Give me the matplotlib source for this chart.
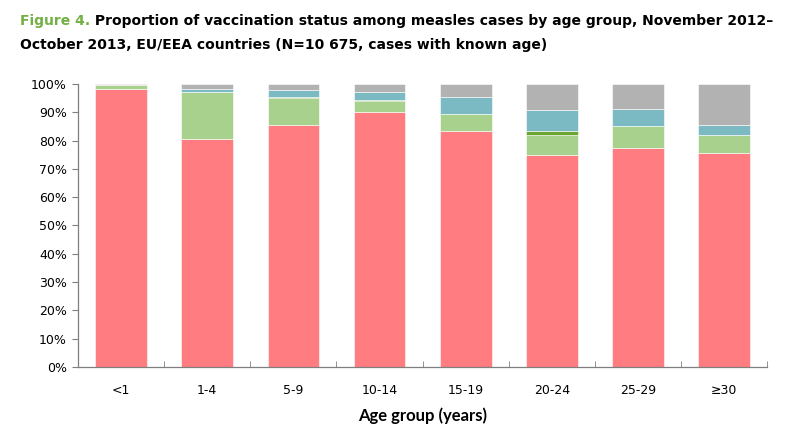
import numpy as np
import matplotlib.pyplot as plt

plt.rcParams["font.family"] = ["DejaVu Sans"]

# Vaccination status shares (%) by age group
age_groups = ["<1", "1-4", "5-9", "10-14", "15-19", "20-24", "25-29", "\u226530"]
unvaccinated = [98.3, 80.6, 85.5, 90.0, 83.5, 75.0, 77.3, 75.5]
one_dose = [1.2, 16.6, 9.6, 3.9, 5.9, 6.8, 8.0, 6.3]
two_doses = [0.0, 0.0, 0.3, 0.3, 0.0, 1.5, 0.0, 0.0]
unknown_doses = [0.2, 0.9, 2.3, 3.0, 5.8, 7.6, 5.9, 3.7]
unknown = [0.3, 1.9, 2.3, 2.8, 4.8, 9.1, 8.8, 14.5]

series = [unvaccinated, one_dose, two_doses, unknown_doses, unknown]
colors = ["#FF7C80", "#A9D18E", "#6AA630", "#7BBAC2", "#B2B2B2"]

fig = plt.figure(figsize=(8.08, 4.37), dpi=100)
ax = fig.add_axes([0.0965, 0.160, 0.853, 0.648])

x = np.arange(len(age_groups))
bottom = np.zeros(len(age_groups))
for vals, col in zip(series, colors):
    ax.bar(x, vals, width=0.6, bottom=bottom, color=col, edgecolor="white", linewidth=0.4)
    bottom += np.array(vals)

ax.set_xlim(-0.5, len(age_groups) - 0.5)
ax.set_ylim(0, 100)
ax.set_yticks(np.arange(0, 101, 10))
ax.set_yticklabels([f"{v}%" for v in range(0, 101, 10)])
ax.set_xticks(x)
ax.set_xticklabels(age_groups)
ax.set_xticks(np.arange(-0.5, len(age_groups)), minor=True)

ax.tick_params(axis="y", direction="out", length=4, color="#7F7F7F", labelsize=9, pad=4)
ax.tick_params(axis="x", which="major", length=0, labelsize=9, pad=12)
ax.tick_params(axis="x", which="minor", direction="in", length=4, color="#7F7F7F")

for s in ["top", "right"]:
    ax.spines[s].set_visible(False)
for s in ["left", "bottom"]:
    ax.spines[s].set_color("#7F7F7F")
    ax.spines[s].set_linewidth(0.9)

ax.set_xlabel("Age group (years)", fontsize=12, family="Lato", fontweight="bold", labelpad=8)

t1 = fig.text(0.025, 0.952, "Figure 4.", color="#72B043", fontsize=10, fontweight="bold", va="center")
fig.canvas.draw()
ax.annotate(" Proportion of vaccination status among measles cases by age group, November 2012\u2013",
            xy=(1, 0.5), xycoords=t1, va="center", ha="left",
            fontsize=10, fontweight="bold", annotation_clip=False)
fig.text(0.025, 0.897, "October 2013, EU/EEA countries (N=10 675, cases with known age)",
         fontsize=10, fontweight="bold", va="center")

plt.savefig("out.png", dpi=100)
